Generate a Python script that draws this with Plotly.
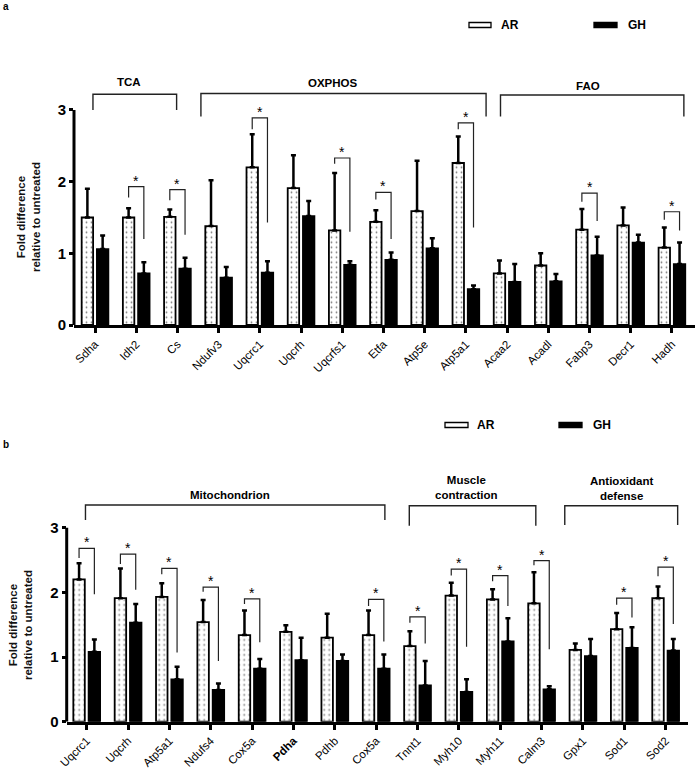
import plotly.graph_objects as go

W, H = 697, 768

# ---------------- Panel a data ----------------
cats_a = ["Sdha", "Idh2", "Cs", "Ndufv3", "Uqcrc1", "Uqcrh", "Uqcrfs1", "Etfa",
          "Atp5e", "Atp5a1", "Acaa2", "Acadl", "Fabp3", "Decr1", "Hadh"]
ar_a = [1.50, 1.50, 1.51, 1.38, 2.20, 1.91, 1.32, 1.44, 1.59, 2.26, 0.72, 0.83, 1.33, 1.39, 1.08]
ar_a_err = [0.40, 0.13, 0.10, 0.64, 0.46, 0.46, 0.80, 0.16, 0.70, 0.37, 0.18, 0.17, 0.29, 0.25, 0.28]
gh_a = [1.06, 0.72, 0.785, 0.66, 0.73, 1.52, 0.84, 0.91, 1.07, 0.50, 0.60, 0.61, 0.97, 1.15, 0.85]
gh_a_err = [0.19, 0.155, 0.155, 0.15, 0.16, 0.21, 0.05, 0.10, 0.14, 0.05, 0.25, 0.10, 0.26, 0.11, 0.30]

sig_a_idx = [1, 2, 4, 6, 7, 9, 12, 14]
sig_a_top = [1.93, 1.89, 2.89, 2.33, 1.85, 2.82, 1.84, 1.58]
sig_a_left = [1.78, 1.74, 2.73, 2.25, 1.75, 2.73, 1.72, 1.47]
sig_a_right = [1.20, 1.26, 1.43, 1.30, 1.20, 1.36, 1.45, 1.32]

grp_a_names = ["TCA", "OXPHOS", "FAO"]
grp_a_start = [-0.05, 2.57, 9.84]
grp_a_end = [1.98, 9.49, 14.29]
grp_a_top = [3.22, 3.23, 3.21]
grp_a_leg = [3.0, 2.91, 2.91]
grp_a_lx = [0.83, 5.78, 11.97]
grp_a_ly = [3.39, 3.37, 3.34]

# ---------------- Panel b data ----------------
cats_b = ["Uqcrc1", "Uqcrh", "Atp5a1", "Ndufs4", "Cox5a", "<b>Pdha</b>", "Pdhb", "Cox5a",
          "Tnnt1", "Myh10", "Myh11", "Calm3", "Gpx1", "Sod1", "Sod2"]
ar_b = [2.20, 1.91, 1.93, 1.54, 1.34, 1.39, 1.30, 1.34, 1.17, 1.95, 1.89, 1.83, 1.11, 1.43, 1.91]
ar_b_err = [0.25, 0.46, 0.21, 0.34, 0.38, 0.10, 0.37, 0.38, 0.23, 0.20, 0.16, 0.48, 0.10, 0.25, 0.18]
gh_b = [1.08, 1.53, 0.655, 0.49, 0.82, 0.95, 0.94, 0.82, 0.56, 0.46, 1.24, 0.50, 1.015, 1.14, 1.10]
gh_b_err = [0.19, 0.29, 0.195, 0.10, 0.15, 0.35, 0.10, 0.22, 0.38, 0.195, 0.36, 0.05, 0.265, 0.32, 0.18]

sig_b_idx = [0, 1, 2, 3, 4, 7, 8, 9, 10, 11, 13, 14]
sig_b_top = [2.68, 2.59, 2.37, 2.08, 1.90, 1.89, 1.62, 2.36, 2.26, 2.49, 1.91, 2.39]
sig_b_left = [2.53, 2.44, 2.28, 2.01, 1.82, 1.79, 1.53, 2.26, 2.17, 2.42, 1.81, 2.25]
sig_b_right = [1.97, 2.04, 1.07, 0.94, 1.23, 1.24, 1.21, 1.16, 1.79, 1.12, 1.61, 1.51]

grp_b_names = ["Mitochondrion", "Muscle<br>contraction", "Antioxidant<br>defense"]
grp_b_start = [-0.03, 7.80, 11.56]
grp_b_end = [7.21, 10.86, 14.29]
grp_b_top = [3.35, 3.34, 3.34]
grp_b_leg = [3.12, 3.03, 3.04]
grp_b_lx = [3.47, 9.19, 12.94]
grp_b_ly = [3.50, 3.62, 3.60]

y_ticks = [0, 1, 2, 3]
FONT = "Liberation Sans, Arial, sans-serif"
BAR_OFF = 0.185

fig = go.Figure()
shapes = []
annotations = []


def add_panel(xa, ya, cats, ar, ar_err, gh, gh_err, sig_idx, sig_top, sig_left, sig_right,
              g_names, g_start, g_end, g_top, g_leg, g_lx, g_ly):
    xs = list(range(len(cats)))
    fig.add_trace(go.Bar(
        x=xs, y=ar, name="AR", xaxis=xa, yaxis=ya, showlegend=False,
        marker=dict(color="white", line=dict(color="black", width=1.8),
                    pattern=dict(shape=".", size=5, solidity=0.1, fgcolor="black",
                                 bgcolor="white", fillmode="overlay")),
        error_y=dict(type="data", array=ar_err, arrayminus=[0] * len(ar_err), symmetric=False,
                     color="black", thickness=2.5, width=2.5)))
    fig.add_trace(go.Bar(
        x=xs, y=gh, name="GH", xaxis=xa, yaxis=ya, showlegend=False,
        marker=dict(color="black", line=dict(color="black", width=1.8)),
        error_y=dict(type="data", array=gh_err, arrayminus=[0] * len(gh_err), symmetric=False,
                     color="black", thickness=2.5, width=2.5)))
    # y axis line from 0 to 3
    shapes.append(dict(type="line", xref=xa + " domain", yref=ya, x0=0, x1=0, y0=0, y1=3,
                       line=dict(color="black", width=3)))
    # significance brackets
    for i, t, l, r in zip(sig_idx, sig_top, sig_left, sig_right):
        x0, x1 = i - BAR_OFF, i + BAR_OFF
        shapes.append(dict(type="path", xref=xa, yref=ya,
                           path=f"M {x0},{l} L {x0},{t} L {x1},{t} L {x1},{r}",
                           line=dict(color="#222", width=1.2)))
        annotations.append(dict(x=i, y=t, xref=xa, yref=ya, text="*", showarrow=False,
                                yanchor="bottom", yshift=-4,
                                font=dict(family=FONT, size=14, color="black")))
    # group brackets
    for name, s, e, t, lg, lx, ly in zip(g_names, g_start, g_end, g_top, g_leg, g_lx, g_ly):
        shapes.append(dict(type="path", xref=xa, yref=ya,
                           path=f"M {s},{lg} L {s},{t} L {e},{t} L {e},{lg}",
                           line=dict(color="#222", width=1.4)))
        annotations.append(dict(x=lx, y=ly, xref=xa, yref=ya, text=f"<b>{name}</b>",
                                showarrow=False, yanchor="middle",
                                font=dict(family=FONT, size=11.5, color="black")))


add_panel("x", "y", cats_a, ar_a, ar_a_err, gh_a, gh_a_err, sig_a_idx, sig_a_top, sig_a_left,
          sig_a_right, grp_a_names, grp_a_start, grp_a_end, grp_a_top, grp_a_leg, grp_a_lx, grp_a_ly)
add_panel("x2", "y2", cats_b, ar_b, ar_b_err, gh_b, gh_b_err, sig_b_idx, sig_b_top, sig_b_left,
          sig_b_right, grp_b_names, grp_b_start, grp_b_end, grp_b_top, grp_b_leg, grp_b_lx, grp_b_ly)


def px_x(p):
    return p / W


def px_y(p):
    return 1 - p / H


# legends (drawn manually: thin wide swatches)
for (ax0, ax1, gx0, gx1, yc, tar, tgh) in [(469, 491, 594, 617, 25, 499, 626),
                                           (445, 468, 559, 582, 425, 475, 591)]:
    shapes.append(dict(type="rect", xref="paper", yref="paper", x0=px_x(ax0), x1=px_x(ax1),
                       y0=px_y(yc + 2.5), y1=px_y(yc - 2.5), fillcolor="white",
                       line=dict(color="black", width=1.3)))
    shapes.append(dict(type="rect", xref="paper", yref="paper", x0=px_x(gx0), x1=px_x(gx1),
                       y0=px_y(yc + 2.5), y1=px_y(yc - 2.5), fillcolor="black",
                       line=dict(color="black", width=1.3)))
    annotations.append(dict(x=px_x(tar), y=px_y(yc), xref="paper", yref="paper", text="<b>AR</b>",
                            showarrow=False, xanchor="left", yanchor="middle",
                            font=dict(family=FONT, size=12, color="black")))
    annotations.append(dict(x=px_x(tgh), y=px_y(yc), xref="paper", yref="paper", text="<b>GH</b>",
                            showarrow=False, xanchor="left", yanchor="middle",
                            font=dict(family=FONT, size=12, color="black")))

# y titles
for (xc, yc) in [(29, 217), (20, 625)]:
    annotations.append(dict(x=px_x(xc), y=px_y(yc), xref="paper", yref="paper",
                            text="<b>Fold difference<br>relative to untreated</b>",
                            showarrow=False, textangle=-90, xanchor="center", yanchor="middle",
                            font=dict(family=FONT, size=11.5, color="#111")))

# panel labels
for (lab, xc, yc) in [("a", 6, 6), ("b", 6, 444)]:
    annotations.append(dict(x=px_x(xc), y=px_y(yc), xref="paper", yref="paper",
                            text=f"<b>{lab}</b>", showarrow=False, xanchor="center",
                            yanchor="middle", font=dict(family=FONT, size=10, color="black")))

xaxis_common = dict(showline=True, linewidth=3, linecolor="black", ticks="outside",
                    tickwidth=3, ticklen=5, tickcolor="black", tickangle=-45,
                    tickfont=dict(family=FONT, size=11.5, color="black"), showgrid=False,
                    zeroline=False, tickmode="array", automargin=False)
yaxis_common = dict(showline=False, ticks="outside", tickwidth=3, ticklen=4, tickcolor="black",
                    tickvals=y_ticks, ticktext=[f"<b>{v}</b>" for v in y_ticks],
                    tickfont=dict(family=FONT, size=15, color="black"),
                    showgrid=False, zeroline=False, range=[0, 3.7], automargin=False)

fig.update_layout(
    width=W, height=H, margin=dict(l=0, r=0, t=0, b=0, pad=0),
    paper_bgcolor="white", plot_bgcolor="white",
    barmode="group", bargap=0.26, bargroupgap=0.25,
    xaxis=dict(**xaxis_common, domain=[74 / W, 695 / W], anchor="y", range=[-0.51, 14.56],
               tickvals=list(range(len(cats_a))), ticktext=cats_a),
    yaxis=dict(**yaxis_common, domain=[px_y(325), px_y(325 - 3.7 * 71.67)], anchor="x"),
    xaxis2=dict(**xaxis_common, domain=[66.7 / W, 688 / W], anchor="y2", range=[-0.484, 14.54],
                tickvals=list(range(len(cats_b))), ticktext=cats_b),
    yaxis2=dict(**yaxis_common, domain=[px_y(721.7), px_y(721.7 - 3.7 * 64.67)], anchor="x2"),
    shapes=shapes, annotations=annotations,
)

fig.write_html("out.html", config={"displayModeBar": False},
               post_script="document.body.style.margin='0px';")
